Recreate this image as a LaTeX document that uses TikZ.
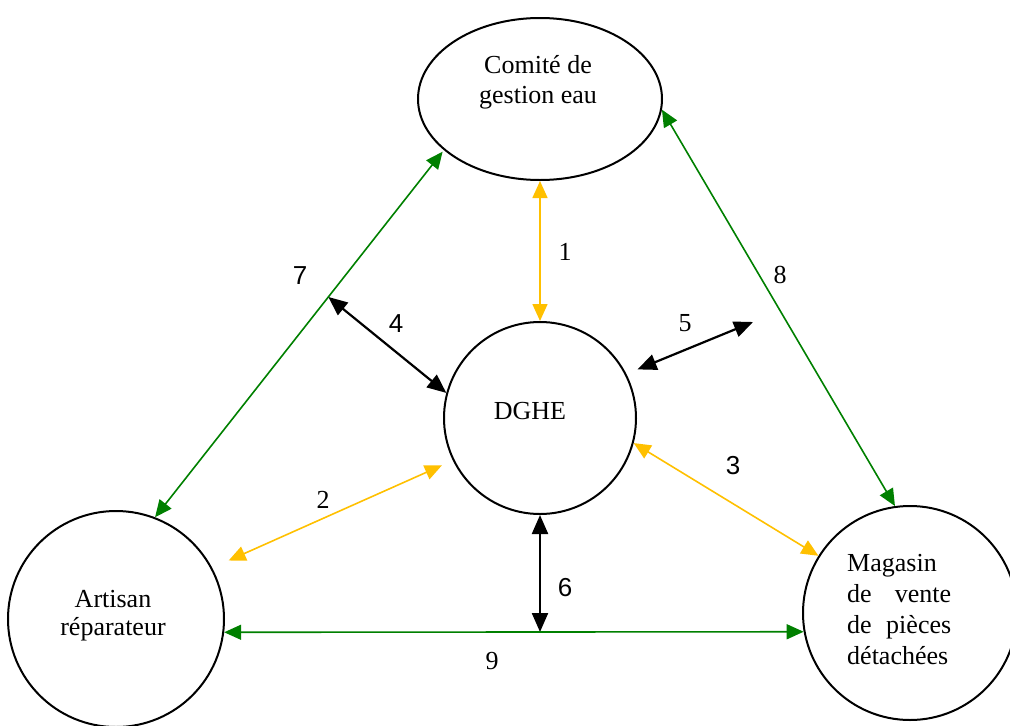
\documentclass[tikz,border=0pt]{standalone}
\usepackage{fontspec}
\setmainfont{Liberation Serif}
\newfontfamily\lsans{Liberation Sans}
\usetikzlibrary{arrows.meta,shapes.geometric,calc}
\definecolor{ygold}{HTML}{FFC000}
\definecolor{dgreen}{HTML}{008000}
\begin{document}
\begin{tikzpicture}[x=1pt,y=-1pt,
  font=\fontsize{26}{30}\selectfont,
  shp/.style={draw, line width=2pt, inner sep=0pt},
  txt/.style={inner sep=0pt},
  lbl/.style={inner sep=0pt},
  ylw/.style={draw=ygold, line width=1.6pt, {Triangle[length=17pt,width=15pt]}-{Triangle[length=17pt,width=15pt]}},
  grn/.style={draw=dgreen, line width=1.6pt, {Triangle[length=17pt,width=15pt]}-{Triangle[length=17pt,width=15pt]}},
  blk/.style={draw=black, line width=2.2pt, {Triangle[length=19pt,width=16pt]}-{Triangle[length=19pt,width=16pt]}}]
\useasboundingbox (0,0) rectangle (1010,726);
% shapes
\node[shp, ellipse, minimum width=244pt, minimum height=162pt] (comite) at (540,99) {};
\node[shp, circle, minimum size=192pt] (dghe) at (540,418) {};
\node[shp, circle, minimum size=216pt] (artisan) at (116,619) {};
\node[shp, circle, minimum size=214pt] (magasin) at (910,613) {};
% texts
\node[txt, anchor=north, align=center, font=\fontsize{26}{30}\selectfont] (tcomite) at (538,55) {Comité de\\gestion eau};
\node[txt, anchor=base] (tdghe) at (530,419) {DGHE};
\node[txt, anchor=north, align=center, font=\fontsize{26}{28}\selectfont] (tartisan) at (113,590) {Artisan\\réparateur};
\node[txt, anchor=north west, align=left, font=\fontsize{26}{31}\selectfont] (tmagasin) at (847,554)
  {Magasin\\\makebox[104pt][s]{de vente}\\\makebox[104pt][s]{de pièces}\\détachées};
% free ends
\coordinate (j7) at ($(artisan.69)!0.6!(comite.208)$);
\coordinate (e5) at (753,322);
\coordinate (j9) at (540,632);
% connectors
\draw[ylw] (comite.270) -- (dghe.90);
\draw[grn, shorten >=2pt] (artisan.69) -- (comite.208);
\draw[grn] (comite.-5) -- (magasin.98);
\draw[blk] (j7) -- (dghe.165);
\draw[blk, shorten <=12pt] (dghe.27) -- (e5);
\draw[ylw] (dghe.-15) -- (magasin.148);
\draw[ylw, shorten <=18pt, shorten >=12pt] (artisan.28) -- (dghe.206);
\draw[blk] (dghe.270) -- (j9);
\draw[grn] (artisan.-7) -- (magasin.190);
% labels
\node[lbl] (l1) at (565,252) {1};
\node[lbl] (l2) at (323,500) {2};
\node[lbl, font=\lsans\fontsize{26}{30}\selectfont] (l3) at (733,466) {3};
\node[lbl, font=\lsans\fontsize{26}{30}\selectfont] (l4) at (396,324) {4};
\node[lbl] (l5) at (685,323) {5};
\node[lbl, font=\lsans\fontsize{26}{30}\selectfont] (l6) at (565,588) {6};
\node[lbl, font=\lsans\fontsize{26}{30}\selectfont] (l7) at (300,276) {7};
\node[lbl] (l8) at (780,275) {8};
\node[lbl] (l9) at (492,661) {9};
\end{tikzpicture}
\end{document}
